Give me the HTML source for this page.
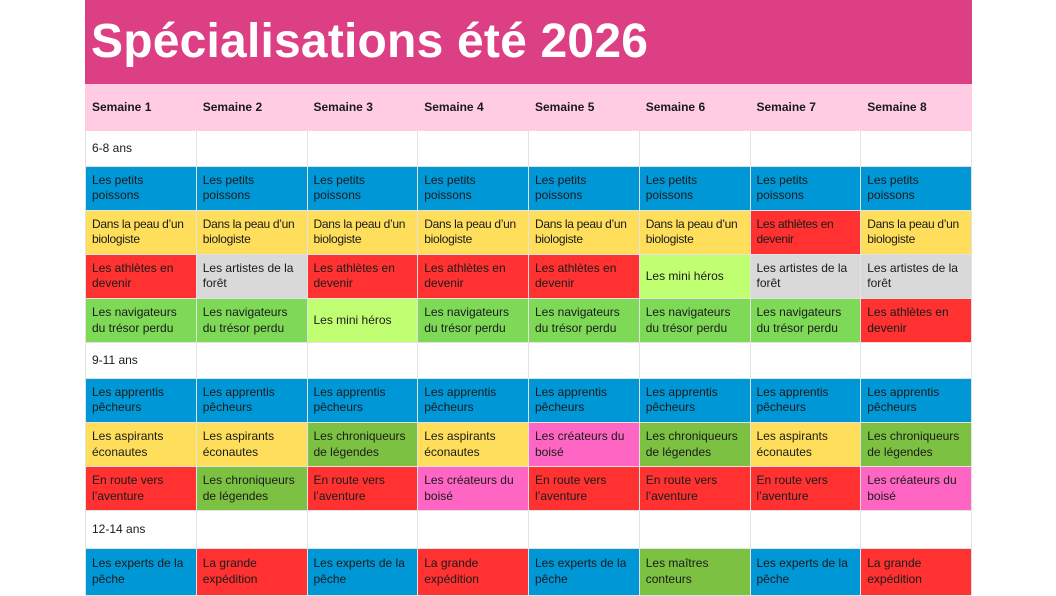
<!DOCTYPE html><html><head><meta charset="utf-8"><style>
body{margin:0;width:1056px;height:594px;background:#fff;overflow:hidden;font-family:"Liberation Sans",sans-serif}
.t{position:absolute;left:85px;top:0;width:887px;height:84px;background:#dc3f83;color:#fff;font-weight:bold;font-size:48px;line-height:84px;padding-left:6px;box-sizing:border-box;letter-spacing:0.2px}
table{position:absolute;left:85px;top:84px;width:887px;border-collapse:collapse;table-layout:fixed}
td{border:1.5px solid #e2e2e2;padding:0 5px 0 6px;font-size:12px;line-height:15.5px;color:#1a1a1a;vertical-align:middle;overflow:hidden;white-space:normal}
tr.h td{background:#ffcce3;font-weight:bold;height:45px;border-color:#ffcce3}
tr.a td{height:34.5px;background:#fff}
tr.r td{height:43.2px}
.b{background:#0097d6}.y{background:#fede5a}.r{background:#ff3131}.g{background:#d9d9d9}.gr{background:#7ed957}.lg{background:#c1ff72}.p{background:#ff66c4}.dg{background:#7dc142}
.n{letter-spacing:-0.3px}
</style></head><body>
<div class="t">Spécialisations été 2026</div>
<table>
<tr class="h"><td>Semaine 1</td><td>Semaine 2</td><td>Semaine 3</td><td>Semaine 4</td><td>Semaine 5</td><td>Semaine 6</td><td>Semaine 7</td><td>Semaine 8</td></tr>
<tr class="a"><td>6-8 ans</td><td></td><td></td><td></td><td></td><td></td><td></td><td></td></tr>
<tr class="r"><td class="b">Les petits poissons</td><td class="b">Les petits poissons</td><td class="b">Les petits poissons</td><td class="b">Les petits poissons</td><td class="b">Les petits poissons</td><td class="b">Les petits poissons</td><td class="b">Les petits poissons</td><td class="b">Les petits poissons</td></tr>
<tr class="r n"><td class="y">Dans la peau d’un biologiste</td><td class="y">Dans la peau d’un biologiste</td><td class="y">Dans la peau d’un biologiste</td><td class="y">Dans la peau d’un biologiste</td><td class="y">Dans la peau d’un biologiste</td><td class="y">Dans la peau d’un biologiste</td><td class="r">Les athlètes en devenir</td><td class="y">Dans la peau d’un biologiste</td></tr>
<tr class="r"><td class="r">Les athlètes en devenir</td><td class="g">Les artistes de la forêt</td><td class="r">Les athlètes en devenir</td><td class="r">Les athlètes en devenir</td><td class="r">Les athlètes en devenir</td><td class="lg">Les mini héros</td><td class="g">Les artistes de la forêt</td><td class="g">Les artistes de la forêt</td></tr>
<tr class="r"><td class="gr">Les navigateurs du trésor perdu</td><td class="gr">Les navigateurs du trésor perdu</td><td class="lg">Les mini héros</td><td class="gr">Les navigateurs du trésor perdu</td><td class="gr">Les navigateurs du trésor perdu</td><td class="gr">Les navigateurs du trésor perdu</td><td class="gr">Les navigateurs du trésor perdu</td><td class="r">Les athlètes en devenir</td></tr>
<tr class="a"><td>9-11 ans</td><td></td><td></td><td></td><td></td><td></td><td></td><td></td></tr>
<tr class="r"><td class="b">Les apprentis pêcheurs</td><td class="b">Les apprentis pêcheurs</td><td class="b">Les apprentis pêcheurs</td><td class="b">Les apprentis pêcheurs</td><td class="b">Les apprentis pêcheurs</td><td class="b">Les apprentis pêcheurs</td><td class="b">Les apprentis pêcheurs</td><td class="b">Les apprentis pêcheurs</td></tr>
<tr class="r"><td class="y">Les aspirants éconautes</td><td class="y">Les aspirants éconautes</td><td class="dg">Les chroniqueurs de légendes</td><td class="y">Les aspirants éconautes</td><td class="p">Les créateurs du boisé</td><td class="dg">Les chroniqueurs de légendes</td><td class="y">Les aspirants éconautes</td><td class="dg">Les chroniqueurs de légendes</td></tr>
<tr class="r"><td class="r">En route vers l’aventure</td><td class="dg">Les chroniqueurs de légendes</td><td class="r">En route vers l’aventure</td><td class="p">Les créateurs du boisé</td><td class="r">En route vers l’aventure</td><td class="r">En route vers l’aventure</td><td class="r">En route vers l’aventure</td><td class="p">Les créateurs du boisé</td></tr>
<tr class="a"><td style="height:36.5px">12-14 ans</td><td></td><td></td><td></td><td></td><td></td><td></td><td></td></tr>
<tr class="r"><td class="b" style="height:46px">Les experts de la pêche</td><td class="r">La grande expédition</td><td class="b">Les experts de la pêche</td><td class="r">La grande expédition</td><td class="b">Les experts de la pêche</td><td class="dg">Les maîtres conteurs</td><td class="b">Les experts de la pêche</td><td class="r">La grande expédition</td></tr>
</table>
</body></html>
